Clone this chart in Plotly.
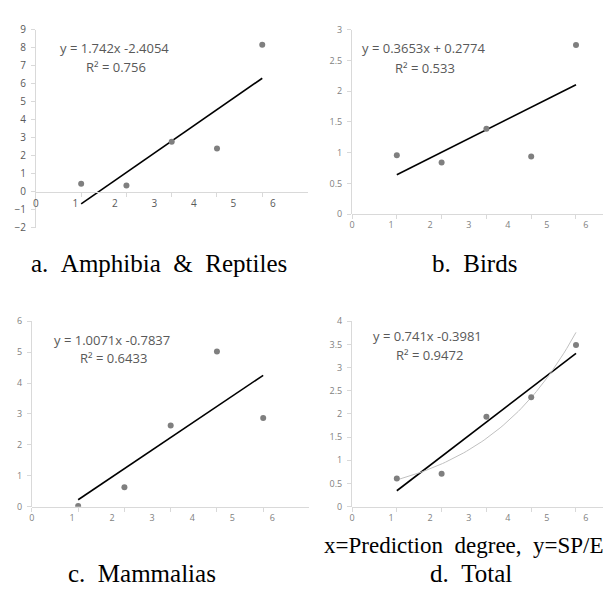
import numpy as np
import plotly.graph_objects as go

W, H = 611, 593

# ---- data ----
x_deg = [1, 2, 3, 4, 5]
amph = [0.45, 0.35, 2.78, 2.40, 8.16]
birds = [0.96, 0.84, 1.39, 0.94, 2.75]
mamm = [0.02, 0.63, 2.63, 5.02, 2.87]
total = [0.61, 0.71, 1.94, 2.36, 3.49]

# trendline coefficients (from chart labels)
fit_a = (1.742, -2.4054)
fit_b = (0.3653, 0.2774)
fit_c = (1.0071, -0.7837)
fit_d = (0.741, -0.3981)

eq_a = ["y = 1.742x -2.4054", "R² = 0.756"]
eq_b = ["y = 0.3653x + 0.2774", "R² = 0.533"]
eq_c = ["y = 1.0071x -0.7837", "R² = 0.6433"]
eq_d = ["y = 0.741x -0.3981", "R² = 0.9472"]

captions = ["a.\u00a0\u00a0Amphibia\u00a0\u00a0&\u00a0\u00a0Reptiles", "b.\u00a0\u00a0Birds",
            "c.\u00a0\u00a0Mammalias", "d.\u00a0\u00a0Total",
            "x=Prediction\u00a0\u00a0degree,\u00a0\u00a0y=SP/E"]
x_tick_labels = ["0", "1", "2", "3", "4", "5", "6"]


def px(x):
    return x / W


def py(y):
    return 1 - y / H


fig = go.Figure()

PT = "#7f7f7f"
AX = "#d9d9d9"

panels = [
    dict(n=1, y=amph, fit=fit_a, xd=(25, 298), yd=(217, 14), yr=[-2, 9], dt=1,
         xr=[0, 6.0], lr=[0, 6.876], xaxis_y=180, tf=10, tc="#595959"),
    dict(n=2, y=birds, fit=fit_b, xd=(342.7, 611), yd=(203, 14), yr=[0, 3], dt=0.5,
         xr=[0, 5.96], lr=[0, 6.85], xaxis_y=203, tf=9, tc="#7f7f7f"),
    dict(n=3, y=mamm, fit=fit_c, xd=(21, 299), yd=(502.5, 312.7), yr=[0, 6], dt=1,
         xr=[0, 5.98], lr=[0, 6.9], xaxis_y=502.5, tf=9, tc="#7f7f7f"),
    dict(n=4, y=total, fit=fit_d, xd=(342.7, 611), yd=(502.5, 312.7), yr=[0, 4], dt=0.5,
         xr=[0, 5.96], lr=[0, 6.85], xaxis_y=502.5, tf=9, tc="#7f7f7f"),
]

layout = {}
for p in panels:
    n = p["n"]
    xa = "x" if n == 1 else f"x{n}"
    ya = "y" if n == 1 else f"y{n}"
    la = f"x{n + 4}"
    xk = "xaxis" if n == 1 else f"xaxis{n}"
    yk = "yaxis" if n == 1 else f"yaxis{n}"
    lk = f"xaxis{n + 4}"

    # linear trendline
    m, b = p["fit"]
    xs = np.array([x_deg[0], x_deg[-1]], dtype=float)
    fig.add_trace(go.Scatter(x=xs, y=m * xs + b, mode="lines",
                             line=dict(color="black", width=1.6),
                             xaxis=xa, yaxis=ya, showlegend=False, hoverinfo="skip"))
    if n == 4:
        # exponential trendline fitted from the data
        k, c = np.polyfit(np.array(x_deg, float), np.log(np.array(total)), 1)
        xx = np.linspace(x_deg[0], x_deg[-1], 60)
        fig.add_trace(go.Scatter(x=xx, y=np.exp(c + k * xx), mode="lines",
                                 line=dict(color="#c0c0c0", width=1),
                                 xaxis=xa, yaxis=ya, showlegend=False, hoverinfo="skip"))
    fig.add_trace(go.Scatter(x=x_deg, y=p["y"], mode="markers",
                             marker=dict(color=PT, size=6),
                             xaxis=xa, yaxis=ya, showlegend=False))
    # dummy trace for label axis
    fig.add_trace(go.Scatter(x=[None], y=[None], xaxis=la, yaxis=ya,
                             showlegend=False, hoverinfo="skip"))

    xpos = py(p["xaxis_y"])
    layout[xk] = dict(domain=[px(p["xd"][0]), px(p["xd"][1])], range=p["xr"],
                      anchor="free", position=xpos,
                      showline=True, linecolor=AX, linewidth=1,
                      ticks="outside", ticklen=4, tickcolor=AX,
                      tickvals=[0, 1, 2, 3, 4, 5], showticklabels=False,
                      showgrid=False, zeroline=False, fixedrange=True)
    layout[lk] = dict(overlaying=xa, range=p["lr"], anchor="free", position=xpos,
                      showline=False, ticks="", tickvals=list(range(7)),
                      ticktext=x_tick_labels, ticklabelstandoff=4,
                      tickfont=dict(family="Open Sans", size=p["tf"], color=p["tc"]),
                      showgrid=False, zeroline=False, fixedrange=True)
    layout[yk] = dict(domain=[py(p["yd"][0]), py(p["yd"][1])], range=p["yr"],
                      anchor=xa, dtick=p["dt"], tick0=0,
                      showline=True, linecolor=AX, linewidth=1,
                      ticks="outside", ticklen=4, tickcolor=AX,
                      ticklabelstandoff=3,
                      tickfont=dict(family="Open Sans", size=p["tf"], color=p["tc"]),
                      showgrid=False, zeroline=False, fixedrange=True)

annotations = []
eq_pos = [
    (eq_a, (104, 33), (106, 52)),
    (eq_b, (415, 33), (416, 53)),
    (eq_c, (101, 332), (103, 350)),
    (eq_d, (419, 328), (421, 347)),
]
for eq, p1, p2 in eq_pos:
    for txt, (cx, cy) in zip(eq, [p1, p2]):
        annotations.append(dict(text=txt, x=px(cx), y=py(cy), xref="paper", yref="paper",
                                xanchor="center", yanchor="middle", showarrow=False,
                                font=dict(family="Open Sans", size=13, color="#595959")))

cap_specs = [((149, 253), 25, "center"), ((466, 253), 25, "center"),
             ((132, 571), 25, "center"), ((462, 571), 25, "center"),
             ((313, 542), 23, "left")]
for txt, ((cx, cy), fs, anc) in zip(captions, cap_specs):
    annotations.append(dict(text=txt, x=px(cx), y=py(cy), xref="paper", yref="paper",
                            xanchor=anc, yanchor="middle", showarrow=False,
                            font=dict(family="Liberation Serif", size=fs, color="black")))

fig.update_layout(width=W, height=H, margin=dict(l=0, r=0, t=0, b=0),
                  paper_bgcolor="white", plot_bgcolor="white",
                  showlegend=False, annotations=annotations, **layout)

fig.write_html("out.html", config={"displayModeBar": False})
